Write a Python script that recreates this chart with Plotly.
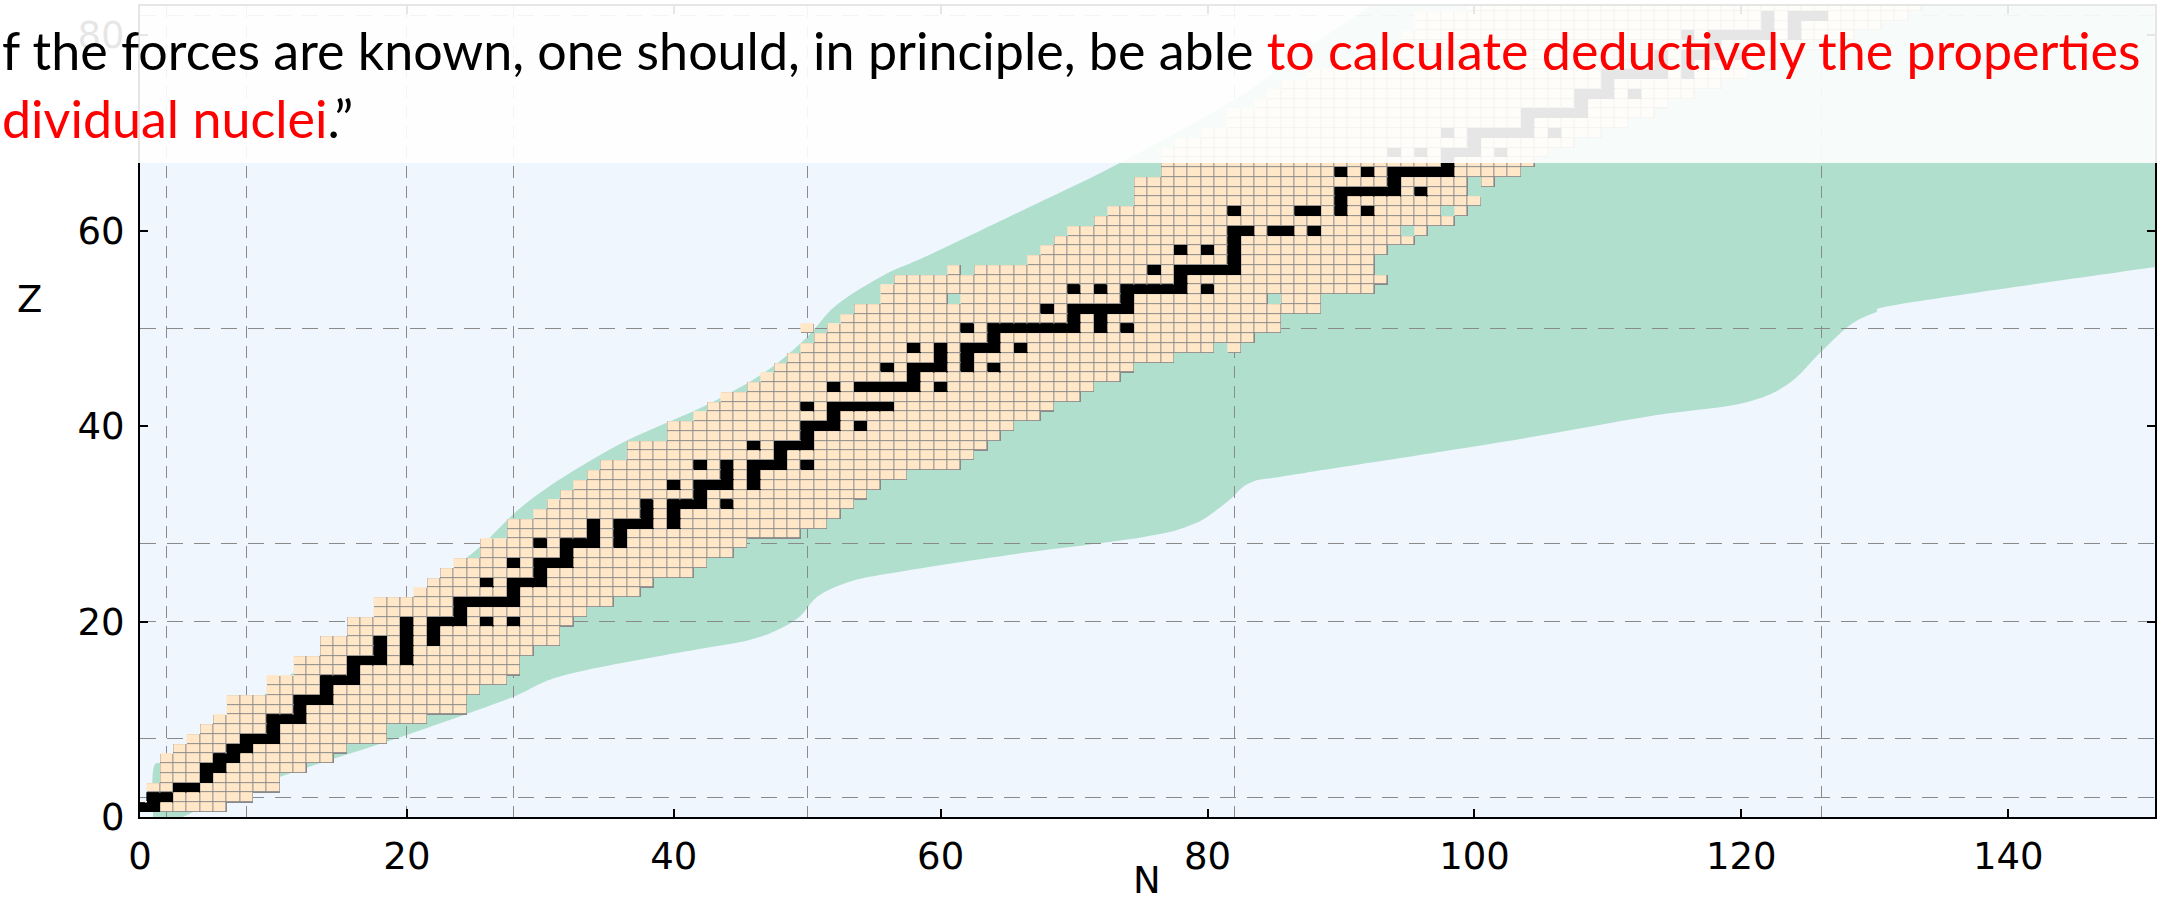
import plotly.graph_objects as go

# ---------------- data ----------------
Z_LIST = list(range(1, 84))
N_MIN = [0, 1, 1, 2, 2, 2, 3, 4, 5, 6, 7, 7, 10, 10, 12, 12, 14, 14, 16, 16,
         18, 18, 21, 22, 23, 24, 26, 26, 28, 28, 30, 31, 32, 33, 34, 35, 37, 37, 40, 40,
         42, 43, 44, 46, 47, 48, 49, 50, 51, 50, 53, 54, 56, 56, 57, 61, 67, 68, 69, 70,
         72, 73, 75, 75, 75, 77, 77, 77, 78, 80, 82, 82, 84, 85, 86, 88, 90, 92, 95, 95,
         96, 96, 100]
N_MAX = [6, 8, 10, 10, 12, 14, 15, 18, 18, 21, 24, 24, 25, 27, 28, 28, 29, 31, 31, 32,
         33, 35, 37, 38, 41, 42, 44, 45, 49, 51, 52, 53, 54, 55, 57, 61, 62, 63, 64, 65,
         67, 68, 70, 71, 73, 74, 77, 80, 83, 85, 85, 88, 88, 92, 93, 92, 92, 93, 95, 96,
         98, 99, 100, 99, 99, 103, 104, 105, 107, 109, 111, 113, 114, 116, 118, 120, 122, 124, 126, 128,
         130, 132, 133]
HOLE_Z = [50, 53, 53, 56, 60, 62]
HOLE_N = [51, 61, 85, 62, 95, 98]
EXTRA_Z = [48, 65]
EXTRA_N = [82, 101]

STABLE_N = [
    [0, 1], [1, 2], [3, 4], [5], [5, 6], [6, 7], [7, 8], [8, 9, 10], [10], [10, 11, 12],
    [12], [12, 13, 14], [14], [14, 15, 16], [16], [16, 17, 18, 20], [18, 20], [18, 20, 22], [20, 22],
    [20, 22, 23, 24, 26, 28], [24], [24, 25, 26, 27, 28], [28], [26, 28, 29, 30], [30],
    [28, 30, 31, 32], [32], [30, 32, 33, 34, 36], [34, 36], [34, 36, 37, 38, 40], [38, 40],
    [38, 40, 41, 42, 44], [42], [40, 42, 43, 44, 46], [44, 46], [42, 44, 46, 47, 48, 50], [48],
    [46, 48, 49, 50], [50], [50, 51, 52, 54], [52], [50, 52, 53, 54, 55, 56], [],
    [52, 54, 55, 56, 57, 58, 60], [58], [56, 58, 59, 60, 62, 64], [60, 62],
    [58, 60, 62, 63, 64, 66], [64], [62, 64, 65, 66, 67, 68, 69, 70, 72, 74], [70, 72],
    [68, 70, 71, 72, 73, 74], [74], [70, 72, 74, 75, 76, 77, 78, 80], [78],
    [76, 78, 79, 80, 81, 82], [82], [78, 80, 82], [82], [82, 83, 85, 86, 88], [],
    [82, 87, 88, 90, 92], [90], [90, 91, 92, 93, 94, 96], [94], [90, 92, 94, 95, 96, 97, 98],
    [98], [94, 96, 98, 99, 100, 102], [100], [98, 100, 101, 102, 103, 104, 106], [104],
    [104, 105, 106, 107, 108], [108], [108, 109, 110, 112], [110], [110, 111, 112, 113, 114, 116],
    [114, 116], [114, 116, 117, 118, 120], [118], [116, 118, 119, 120, 121, 122, 124],
    [122, 124], [122, 124, 125, 126], []]

UPPER_N = [1.0, 1.0, 2.0, 5.0, 9.6, 11.5, 16.0, 20.5, 23.5, 25.6, 27.6, 29.2, 32.1, 36.6,
           42.5, 46.9, 49.9, 52.2, 55.8, 59.1, 66.0, 73.1, 82.1, 87.0, 92.2, 96.0]
UPPER_Z = [-1.0, 4.9, 5.8, 8.8, 12.8, 14.8, 18.7, 22.6, 25.5, 27.8, 30.5, 32.4, 35.1, 38.6,
           42.2, 45.6, 49.0, 52.4, 55.5, 57.5, 62.0, 66.7, 73.5, 78.3, 83.0, 87.0]
LOWER_N = [1.0, 3.2, 6.6, 12.6, 20.0, 27.6, 31.8, 40.7, 45.6, 48.0, 49.5, 50.8, 53.0, 56.0,
           65.0, 75.0, 79.0, 81.5, 83.2, 86.3, 101.7, 113.0, 119.9, 123.4, 125.9, 128.1,
           130.0, 132.4, 151.0, 160.0]
LOWER_Z = [-1.0, 0.0, 2.2, 5.1, 8.4, 12.1, 14.5, 16.9, 18.1, 19.3, 20.6, 22.6, 24.0, 24.9,
           26.8, 28.6, 30.0, 32.3, 34.2, 35.0, 38.3, 41.0, 42.3, 44.2, 47.5, 50.3,
           51.6, 52.6, 56.3, 58.0]

MAGIC = [2, 8, 20, 28, 50, 82, 126]
X_TICKS = [0, 20, 40, 60, 80, 100, 120, 140]
Y_TICKS = [0, 20, 40, 60, 80]

# ---------------- build cell grid ----------------
N_AXIS = list(range(0, 141))
Z_AXIS = list(range(0, 84))
known = set()
for z, a, b in zip(Z_LIST, N_MIN, N_MAX):
    for n in range(a, b + 1):
        known.add((z, n))
for z, n in zip(HOLE_Z, HOLE_N):
    known.discard((z, n))
for z, n in zip(EXTRA_Z, EXTRA_N):
    known.add((z, n))
stable = set()
for z, ns in zip(Z_LIST, STABLE_N):
    for n in ns:
        stable.add((z, n))
        known.add((z, n))

grid = []
for z in Z_AXIS:
    row = []
    for n in N_AXIS:
        if (z, n) in stable:
            row.append(2)
        elif (z, n) in known:
            row.append(1)
        else:
            row.append(None)
    grid.append(row)


def smooth(xs, ys, start=True):
    pts = list(zip(xs, ys))
    out = (f"M {pts[0][0]},{pts[0][1]}" if start else f" L {pts[0][0]},{pts[0][1]}")
    for i in range(len(pts) - 1):
        p0 = pts[i - 1] if i > 0 else pts[i]
        p1, p2 = pts[i], pts[i + 1]
        p3 = pts[i + 2] if i + 2 < len(pts) else pts[i + 1]
        c1 = (p1[0] + (p2[0] - p0[0]) / 6, p1[1] + (p2[1] - p0[1]) / 6)
        c2 = (p2[0] - (p3[0] - p1[0]) / 6, p2[1] - (p3[1] - p1[1]) / 6)
        out += f" C {c1[0]:.3f},{c1[1]:.3f} {c2[0]:.3f},{c2[1]:.3f} {p2[0]:.3f},{p2[1]:.3f}"
    return out


band = smooth(UPPER_N, UPPER_Z)
band += f" L 175,{UPPER_Z[-1]} L 175,{LOWER_Z[-1]}"
band += smooth(LOWER_N[::-1], LOWER_Z[::-1], start=False) + " Z"

BEIGE = "#FFE7C8"
EDGE = "#8A8A8A"

fig = go.Figure()
fig.add_trace(go.Heatmap(
    x=N_AXIS, y=Z_AXIS, z=grid, zmin=1, zmax=2, showscale=False, hoverinfo="skip",
    colorscale=[[0, EDGE], [0.5, EDGE], [0.5, "#000000"], [1, "#000000"]]))
fig.add_trace(go.Heatmap(
    x=N_AXIS, y=Z_AXIS, z=grid, zmin=1, zmax=2, showscale=False, hoverinfo="skip",
    xgap=1, ygap=1,
    colorscale=[[0, BEIGE], [0.5, BEIGE], [0.5, "#000000"], [1, "#000000"]]))

L, R, T, B = 140, 2, 6, 93
PW, PH = 2159 - L - R, 910 - T - B


def px_x(px):
    return (px - L) / PW


def px_y(py):
    return (910 - B - py) / PH


tickfont = dict(family="DejaVu Sans", size=37, color="black")
fig.update_layout(
    width=2159, height=910,
    margin=dict(l=L, r=R, t=T, b=B, pad=0),
    paper_bgcolor="white", plot_bgcolor="#EFF6FE",
    showlegend=False,
    xaxis=dict(range=[0, 151], tickmode="array", tickvals=X_TICKS, ticks="inside",
               ticklen=8, tickwidth=1.5, tickcolor="black", showline=True, linewidth=2,
               linecolor="black", mirror="ticks", showgrid=False, zeroline=False,
               tickfont=tickfont, ticklabelstandoff=6,
               minor=dict(tickmode="array", tickvals=MAGIC, showgrid=True, ticks="",
                          gridcolor="#8A8A8A", gridwidth=1.3, griddash="12px,8px")),
    yaxis=dict(range=[0, 83], tickmode="array", tickvals=Y_TICKS, ticks="inside",
               ticklen=8, tickwidth=1.5, tickcolor="black", showline=True, linewidth=2,
               linecolor="black", mirror="ticks", showgrid=False, zeroline=False,
               tickfont=tickfont, ticklabelstandoff=6,
               minor=dict(tickmode="array", tickvals=MAGIC[:-1], showgrid=True, ticks="",
                          gridcolor="#8A8A8A", gridwidth=1.3, griddash="16px,11px")),
    shapes=[
        dict(type="path", path=band, xref="x", yref="y", layer="below",
             fillcolor="#B0DFCE", line=dict(width=0)),
        dict(type="rect", xref="paper", yref="paper", x0=px_x(-10), x1=px_x(2170),
             y0=px_y(163), y1=px_y(-10), fillcolor="rgba(255,255,255,0.9)",
             line=dict(width=0), layer="above"),
    ],
    annotations=[
        dict(xref="paper", yref="paper", x=px_x(0), y=px_y(17), xanchor="left", yanchor="top",
             align="left", showarrow=False,
             font=dict(family="Lato", size=52, color="black"),
             text=("f the forces are known, one should, in principle, be able "
                   "<span style='color:#FF0000'>to calculate deductively the properties</span><br>"
                   "<span style='color:#FF0000'>dividual nuclei</span>.\u201d")),
        dict(xref="paper", yref="paper", x=px_x(29), y=px_y(300), xanchor="center",
             yanchor="middle", showarrow=False, text="Z",
             font=dict(family="DejaVu Sans", size=37, color="black")),
        dict(xref="paper", yref="paper", x=px_x(1148), y=px_y(880), xanchor="center",
             yanchor="middle", showarrow=False, text="N",
             font=dict(family="DejaVu Sans", size=37, color="black")),
    ],
)

fig.write_html("out.html")
